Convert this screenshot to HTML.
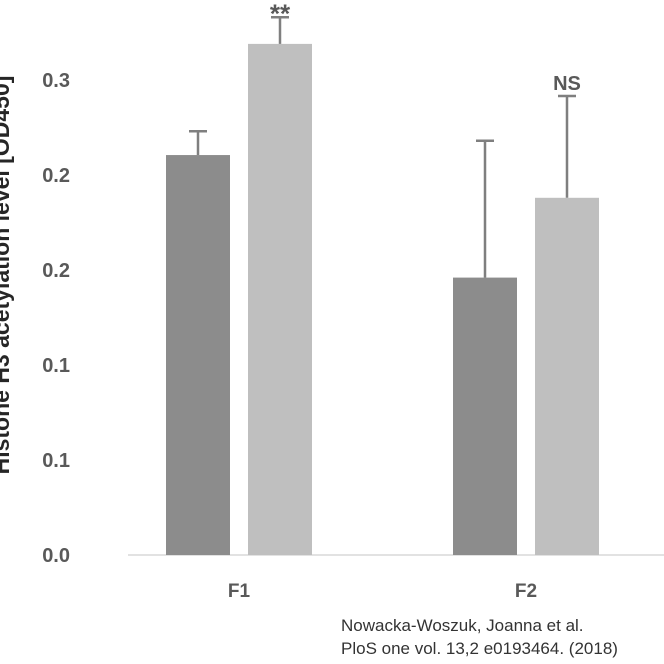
<!DOCTYPE html>
<html><head><meta charset="utf-8"><style>
body{margin:0;background:#fff;}
svg{display:block;font-family:"Liberation Sans",sans-serif;}
</style></head><body>
<svg id="chart" width="664" height="664" viewBox="0 0 664 664">
<text transform="translate(9,275) rotate(-90)" text-anchor="middle" font-size="23" font-weight="bold" fill="#262626">Histone H3 acetylation level [OD450]</text>
<line x1="128" y1="555" x2="664" y2="555" stroke="#d9d9d9" stroke-width="1.5"/>
<g id="yticks"></g><g id="bars"></g><g id="xlabels"></g>
<text x="341" y="631" font-size="17" fill="#333">Nowacka-Woszuk, Joanna et al.</text>
<text x="341" y="654" font-size="17" fill="#333">PloS one vol. 13,2 e0193464. (2018)</text>
</svg>
<script>
const categories=["F1","F2"];
const seriesA=[0.2105,0.146];
const seriesB=[0.269,0.188];
const errA=[0.0125,0.072];
const errB=[0.014,0.0536];
const sigLabels=["**","NS"];
const tickValues=[0,0.05,0.1,0.15,0.2,0.25];
const tickLabels=["0.0","0.1","0.1","0.2","0.2","0.3"];
const NS="http://www.w3.org/2000/svg";
const y=v=>555-v/0.05*95;
const catX=i=>239+i*287;
function mk(t,a,p){const e=document.createElementNS(NS,t);for(const k in a)e.setAttribute(k,a[k]);p.appendChild(e);return e;}
const yt=document.getElementById('yticks');
tickValues.forEach((v,i)=>{const t=mk('text',{x:70,y:y(v)+7,'text-anchor':'end','font-size':20,'font-weight':'bold',fill:'#595959'},yt);


t.textContent=tickLabels[i];});
const bg=document.getElementById('bars');
categories.forEach((c,i)=>{
 const cx=catX(i);
 [[seriesA,errA,'#8c8c8c',-73],[seriesB,errB,'#bfbfbf',9]].forEach((s,j)=>{
  const v=s[0][i],e=s[1][i],x=cx+s[3];
  const r=mk('rect',{x:x,y:y(v),width:64,height:555-y(v),fill:s[2]},bg);
  
  
  const g=mk('g',{stroke:'#7f7f7f','stroke-width':2.5},bg);
  
  
  mk('line',{x1:x+32,x2:x+32,y1:y(v),y2:y(v+e)},g);
  mk('line',{x1:x+23,x2:x+41,y1:y(v+e),y2:y(v+e)},g);
  if(j===1){const isStar=sigLabels[i]==="**";
   const t=mk('text',{x:x+32,y:isStar?y(v+e)+5:y(v+e)-6,'text-anchor':'middle','font-size':isStar?26:20,'font-weight':'bold',fill:'#595959'},bg);
   
   
   t.textContent=sigLabels[i];}
 });
 const t=mk('text',{x:cx,y:597,'text-anchor':'middle','font-size':19,'font-weight':'bold',fill:'#595959'},document.getElementById('xlabels'));
 
 
 t.textContent=c;
});
</script>
</body></html>
